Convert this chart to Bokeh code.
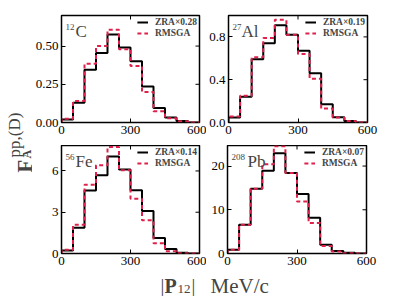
import math
from bokeh.plotting import figure
from bokeh.models import Range1d, FixedTicker, Label, Legend, LegendItem
from bokeh.layouts import row, column
from bokeh.embed import file_html
from bokeh.resources import INLINE

# ---------------- data ----------------
edges = [0, 50, 100, 150, 200, 250, 300, 350, 400, 450, 500, 550, 600]

mass_numbers = ["12", "27", "56", "208"]
symbols = ["C", "Al", "Fe", "Pb"]
zra_scales = ["0.28", "0.19", "0.14", "0.07"]

zra_C = [0.02, 0.13, 0.345, 0.455, 0.575, 0.49, 0.40, 0.235, 0.095, 0.033, 0.01, 0.0]
rmsga_C = [0.025, 0.14, 0.385, 0.50, 0.607, 0.48, 0.37, 0.20, 0.074, 0.028, 0.008, 0.0]
zra_Al = [0.046, 0.24, 0.59, 0.74, 0.91, 0.82, 0.67, 0.46, 0.17, 0.05, 0.015, 0.0]
rmsga_Al = [0.055, 0.25, 0.61, 0.79, 0.96, 0.82, 0.64, 0.41, 0.13, 0.046, 0.015, 0.0]
zra_Fe = [0.22, 1.87, 4.58, 5.68, 7.05, 6.1, 4.6, 3.09, 1.12, 0.32, 0.05, 0.0]
rmsga_Fe = [0.27, 2.09, 5.0, 6.42, 7.74, 6.05, 3.98, 2.41, 0.75, 0.17, 0.02, 0.0]
zra_Pb = [0.86, 6.56, 14.8, 18.9, 22.9, 18.4, 13.6, 8.2, 2.0, 0.55, 0.15, 0.0]
rmsga_Pb = [0.86, 6.56, 14.8, 20.4, 24.5, 18.4, 11.9, 7.0, 1.7, 0.47, 0.08, 0.0]

y_max = [0.70, 1.0, 7.85, 24.7]

xticks = [0, 300, 600]
xtick_labels = ["0", "300", "600"]
yticks_C = [0, 0.25, 0.5]
ytick_labels_C = ["0.00", "0.25", "0.50"]
yticks_Al = [0, 0.4, 0.8]
ytick_labels_Al = ["0.0", "0.4", "0.8"]
yticks_Fe = [0, 3, 6]
ytick_labels_Fe = ["0", "3", "6"]
yticks_Pb = [0, 10, 20]
ytick_labels_Pb = ["0", "10", "20"]

FONT = "Liberation Serif"
RED = "#e0204a"


def step_xy(e, vals):
    xs, ys = [e[0]], [0]
    for i, v in enumerate(vals):
        xs += [e[i], e[i + 1]]
        ys += [v, v]
    xs.append(e[-1])
    ys.append(0)
    return xs, ys


def style_axis(ax, ticks, labels):
    ax.ticker = FixedTicker(ticks=ticks)
    ax.major_label_overrides = {t: l for t, l in zip(ticks, labels)}
    ax.major_tick_in = 4
    ax.major_tick_out = 0
    ax.major_tick_line_color = "black"
    ax.major_tick_line_width = 1
    ax.minor_tick_line_color = None
    ax.axis_line_color = None
    ax.major_label_text_font = FONT
    ax.major_label_text_color = "black"
    ax.major_label_text_font_size = "13px"
    ax.major_label_standoff = 3


def panel(idx, zra, rms, yt, ytl, fh, left_col, top_row, name_pos):
    p = figure(frame_width=138 if left_col else 139, frame_height=fh,
               x_range=Range1d(0, 600), y_range=Range1d(0, y_max[idx]),
               output_backend="svg", toolbar_location=None,
               min_border_left=29 if left_col else 21,
               min_border_right=7 if left_col else 12,
               min_border_top=15 if top_row else 0,
               min_border_bottom=23 if top_row else 18)
    p.grid.visible = False
    p.outline_line_color = "black"
    p.outline_line_width = 1.5
    p.outline_line_alpha = 1
    p.background_fill_color = "white"
    p.border_fill_color = "white"
    style_axis(p.xaxis[0], xticks, xtick_labels)
    style_axis(p.yaxis[0], yt, ytl)

    # inward ticks on the right and top edges
    p.ray(x=[600] * len(yt), y=yt, length=4, length_units="screen",
          angle=math.pi, line_color="black", line_width=1)
    p.ray(x=xticks, y=[y_max[idx]] * len(xticks), length=4, length_units="screen",
          angle=-math.pi / 2, line_color="black", line_width=1)

    bx, by = step_xy(edges, zra)
    rx, ry = step_xy(edges, rms)
    r1 = p.line(bx, by, line_color="black", line_width=2)
    r2 = p.line(rx, ry, line_color=RED, line_width=2, line_dash="4 3")

    leg = Legend(items=[LegendItem(label="ZRA\u00d7" + zra_scales[idx], renderers=[r1]),
                        LegendItem(label="RMSGA", renderers=[r2])],
                 location="top_right", label_text_font=FONT, label_text_font_size="9.5px",
                 label_text_font_style="bold", glyph_width=11, glyph_height=8,
                 label_height=9, label_standoff=7, spacing=1, padding=2, margin=2,
                 border_line_color=None, background_fill_alpha=0)
    p.add_layout(leg)

    sx, mx = name_pos
    p.add_layout(Label(x=sx, y=fh - 11, x_units="screen", y_units="screen",
                       text=mass_numbers[idx], text_font=FONT, text_font_size="9px",
                       text_baseline="alphabetic", text_align="left"))
    p.add_layout(Label(x=mx, y=fh - 16, x_units="screen", y_units="screen",
                       text=symbols[idx], text_font=FONT, text_font_size="17px",
                       text_baseline="alphabetic", text_align="left"))
    return p


p1 = panel(0, zra_C, rmsga_C, yticks_C, ytick_labels_C, 107, True, True, (4, 14))
p2 = panel(1, zra_Al, rmsga_Al, yticks_Al, ytick_labels_Al, 107, False, True, (4, 13))
p3 = panel(2, zra_Fe, rmsga_Fe, yticks_Fe, ytick_labels_Fe, 108, True, False, (4, 14))
p4 = panel(3, zra_Pb, rmsga_Pb, yticks_Pb, ytick_labels_Pb, 108, False, False, (4, 20))

# ---- x-axis label strip (data coords = page pixels) ----
xf = figure(width=346, height=25, x_range=Range1d(61, 366), y_range=Range1d(296, 271),
            output_backend="svg", toolbar_location=None,
            min_border_left=29, min_border_right=12, min_border_top=0, min_border_bottom=0,
            x_axis_location=None, y_axis_location=None)
xf.grid.visible = False
xf.outline_line_color = None
xf.background_fill_color = "white"
xf.border_fill_color = "white"


def xl(x, y, text, size, bold=False):
    xf.add_layout(Label(x=x, y=y, text=text, text_font=FONT, text_font_size=size,
                        text_font_style="bold" if bold else "normal",
                        text_baseline="alphabetic", text_align="left"))


xl(160, 285, "|", "19px")
xl(164, 285, "P", "20px", bold=True)
xl(177, 288, "12", "13px")
xl(191, 285, "|", "19px")
xl(210, 285, "MeV/c", "21px")

# ---- y-axis label strip (data coords = page pixels) ----
yf = figure(width=32, height=287, x_range=Range1d(0, 32), y_range=Range1d(287, 0),
            output_backend="svg", toolbar_location=None, min_border=0,
            x_axis_location=None, y_axis_location=None)
yf.grid.visible = False
yf.outline_line_color = None
yf.background_fill_color = "white"
yf.border_fill_color = "white"
yf.add_layout(Label(x=24.5, y=172, text="F", angle=math.pi / 2, text_font=FONT,
                    text_font_size="21px", text_font_style="bold",
                    text_baseline="alphabetic", text_align="left"))
yf.add_layout(Label(x=14, y=157, text="pp,(D)", angle=math.pi / 2, text_font=FONT,
                    text_font_size="17px", text_baseline="alphabetic", text_align="left"))
yf.add_layout(Label(x=26, y=158, text="A", angle=math.pi / 2, text_font=FONT,
                    text_font_size="12px", text_font_style="bold",
                    text_baseline="alphabetic", text_align="left"))

layout = row(yf, column(row(p1, p2), row(p3, p4), xf))

open("out.html", "w").write(file_html(layout, INLINE))
